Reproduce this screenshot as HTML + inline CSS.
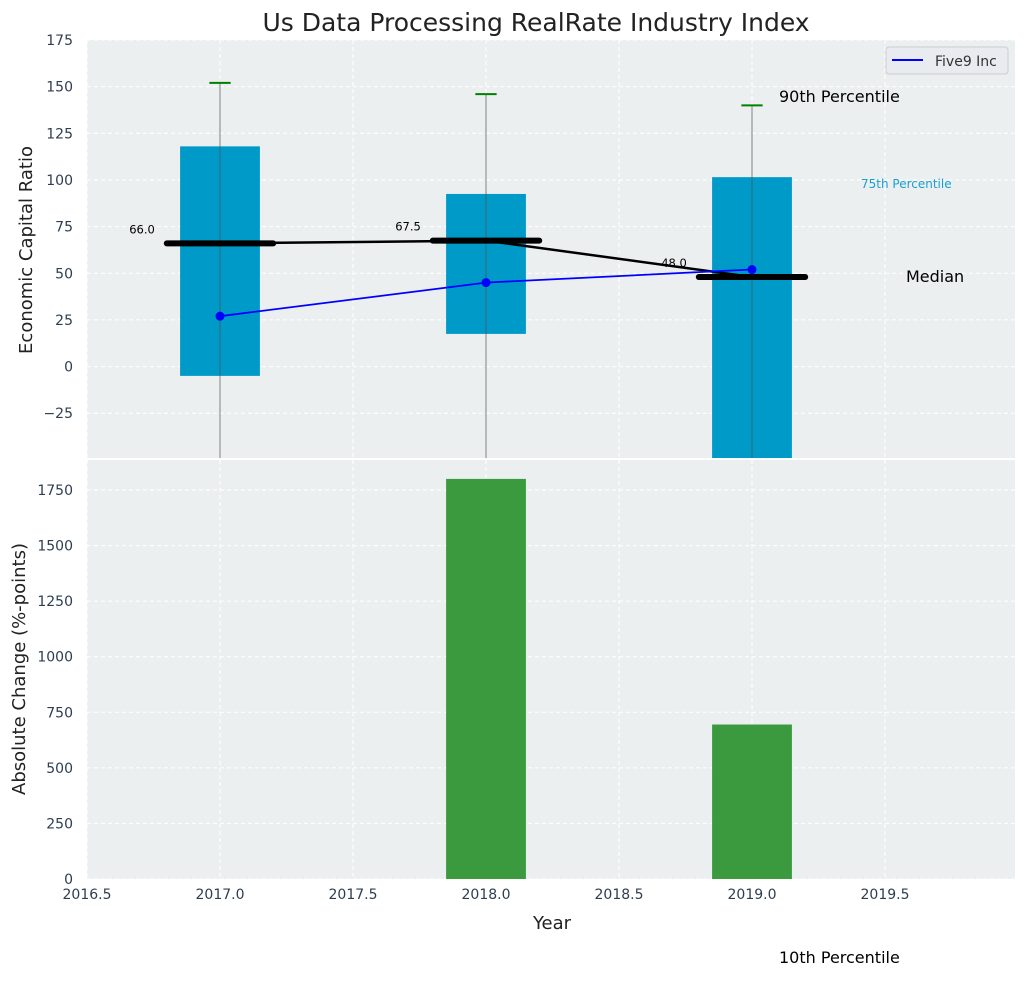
<!DOCTYPE html>
<html><head><meta charset="utf-8"><style>
body{margin:0;background:#fff;font-family:"Liberation Sans","DejaVu Sans",sans-serif;}
svg text{font-family:"DejaVu Sans","Liberation Sans",sans-serif;}
</style></head><body>
<svg id="c" width="1026" height="976" xmlns="http://www.w3.org/2000/svg"></svg>
<script>
const years=[2017,2018,2019];
const q25=[-5,17.5,-60];
const q75=[118,92.5,101.5];
const p90=[152,146,140];
const p10=[-80,-80,-80];
const medians=[66.0,67.5,48.0];
const five9=[27,45,52];
const absChange=[0,1800,695];
const xTicks=[2016.5,2017.0,2017.5,2018.0,2018.5,2019.0,2019.5];
const yTopTicks=[-25,0,25,50,75,100,125,150,175];
const yBotTicks=[0,250,500,750,1000,1250,1500,1750];

const NS="http://www.w3.org/2000/svg";
const svg=document.getElementById('c');
const L=87,R=1015;
const X=v=>L+(v-2016.5)*266;
const T0=40,T1=458,B0=460,B1=879;
const YT=v=>T1-(v+49)/(175+49)*(T1-T0);
const YB=v=>B1-v/1885*(B1-B0);
function el(tag,a,name,txt){const e=document.createElementNS(NS,tag);for(const k in a)e.setAttribute(k,a[k]);


if(txt!==undefined)e.textContent=txt;svg.appendChild(e);return e;}
el('defs',{},'defs').innerHTML='<clipPath id="ct"><rect x="87" y="40" width="928" height="418"/></clipPath><clipPath id="cb"><rect x="87" y="460" width="928" height="419"/></clipPath>';
el('rect',{x:L,y:T0,width:R-L,height:T1-T0,fill:'#ebeff0'},'top-plot-area');
el('rect',{x:L,y:B0,width:R-L,height:B1-B0,fill:'#ebeff0'},'bottom-plot-area');
el('text',{x:536,y:31,'font-size':25,'text-anchor':'middle',fill:'#222'},'chart-title','Us Data Processing RealRate Industry Index');
// grids
xTicks.forEach(t=>{
 el('line',{x1:X(t),x2:X(t),y1:T0,y2:T1,stroke:'#fff','stroke-dasharray':'4,3'},'top-x-grid');
 el('line',{x1:X(t),x2:X(t),y1:B0,y2:B1,stroke:'#fff','stroke-dasharray':'4,3'},'bottom-x-grid');
 el('text',{x:X(t),y:899,'font-size':14,'text-anchor':'middle',fill:'#2e3e50'},'x-tick-label',t.toFixed(1));
});
yTopTicks.forEach(t=>{
 el('line',{x1:L,x2:R,y1:YT(t),y2:YT(t),stroke:'#fff','stroke-dasharray':'4,3'},'top-y-grid');
 el('text',{x:73,y:YT(t)+5,'font-size':14,'text-anchor':'end',fill:'#2e3e50'},'top-y-tick-label',t<0?'\u2212'+(-t):String(t));
});
yBotTicks.forEach(t=>{
 el('line',{x1:L,x2:R,y1:YB(t),y2:YB(t),stroke:'#fff','stroke-dasharray':'4,3'},'bottom-y-grid');
 el('text',{x:73,y:YB(t)+5,'font-size':14,'text-anchor':'end',fill:'#2e3e50'},'bottom-y-tick-label',String(t));
});
const gt=el('g',{'clip-path':'url(#ct)'},'top-marks');
function tel(tag,a,name){const e=el(tag,a,name);gt.appendChild(e);return e;}
years.forEach((y,i)=>{
 tel('rect',{x:X(y-0.15),y:YT(q75[i]),width:X(y+0.15)-X(y-0.15),height:YT(q25[i])-YT(q75[i]),fill:'#009ac9'},'iqr-box');
 tel('line',{x1:X(y),x2:X(y),y1:YT(p90[i]),y2:YT(p10[i]),stroke:'#555','stroke-opacity':0.6,'stroke-width':1.2},'whisker');
 tel('line',{x1:X(y-0.04),x2:X(y+0.04),y1:YT(p90[i]),y2:YT(p90[i]),stroke:'green','stroke-width':2},'p90-cap');
 tel('line',{x1:X(y-0.2),x2:X(y+0.2),y1:YT(medians[i]),y2:YT(medians[i]),stroke:'#000','stroke-width':6,'stroke-linecap':'round'},'median-bar');
 tel('text',{x:X(y)-78,y:YT(medians[i])-10,'font-size':11.5,'text-anchor':'middle',fill:'#000'},'median-label').textContent=medians[i].toFixed(1);
});
tel('polyline',{points:years.map((y,i)=>X(y)+','+YT(medians[i])).join(' '),fill:'none',stroke:'#000','stroke-width':2.5},'median-line');
tel('polyline',{points:years.map((y,i)=>X(y)+','+YT(five9[i])).join(' '),fill:'none',stroke:'blue','stroke-width':1.8},'five9-line');
years.forEach((y,i)=>tel('circle',{cx:X(y),cy:YT(five9[i]),r:4.5,fill:'blue'},'five9-point'));
const gb=el('g',{'clip-path':'url(#cb)'},'bottom-marks');
years.forEach((y,i)=>{if(absChange[i]>0){const r=el('rect',{x:X(y-0.15),y:YB(absChange[i]),width:X(y+0.15)-X(y-0.15),height:YB(0)-YB(absChange[i]),fill:'#3a9a3d'},'change-bar');gb.appendChild(r);}});
el('text',{x:779,y:102,'font-size':16,fill:'#000'},'p90-annotation','90th Percentile');
el('text',{x:861,y:188,'font-size':12,fill:'#1aa0cf'},'p75-annotation','75th Percentile');
el('text',{x:906,y:282,'font-size':16,fill:'#000'},'median-annotation','Median');
el('text',{x:779,y:963,'font-size':16,fill:'#000'},'p10-annotation','10th Percentile');
el('text',{x:552,y:929,'font-size':18,'text-anchor':'middle',fill:'#222'},'x-axis-title','Year');
el('text',{x:0,y:0,'font-size':18,'text-anchor':'middle',fill:'#222',transform:'translate(32,250) rotate(-90)'},'top-y-axis-title','Economic Capital Ratio');
el('text',{x:0,y:0,'font-size':18,'text-anchor':'middle',fill:'#222',transform:'translate(25,669) rotate(-90)'},'bottom-y-axis-title','Absolute Change (%-points)');
const lg=el('rect',{x:886,y:47,width:122,height:27,rx:3,fill:'#e8ebef',stroke:'#ccc'},'legend');
el('line',{x1:892,x2:923,y1:60,y2:60,stroke:'blue','stroke-width':2},'legend-five9-swatch');
el('text',{x:935,y:66,'font-size':14,fill:'#333'},'legend-five9-label','Five9 Inc');
</script>
</body></html>
